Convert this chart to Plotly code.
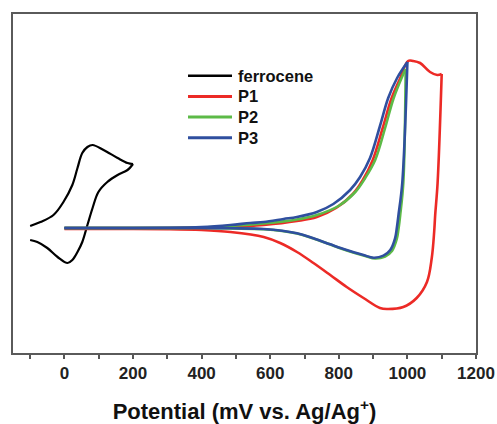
import plotly.graph_objects as go

# Cyclic voltammograms: potential (mV vs. Ag/Ag+) and current (arb. units),
# each sweep split into its forward (anodic) and reverse (cathodic) half.

ferrocene_fwd_x = [-100, -70, -32, -3, 23, 38, 52, 67, 82, 114, 155, 184, 200]
ferrocene_fwd_y = [0.2, 0.6, 1.3, 2.6, 4.3, 6.0, 7.5, 8.1, 8.3, 7.8, 7.0, 6.5, 6.4]
ferrocene_rev_x = [200, 184, 155, 125, 99, 82, 67, 52, 38, 23, 9, -20, -50, -79, -100]
ferrocene_rev_y = [6.4, 5.8, 5.3, 4.6, 3.6, 2.0, 0.3, -1.4, -2.4, -3.2, -3.5, -2.9, -2.0, -1.4, -1.2]

p1_fwd_x = [0, 150, 300, 400, 484, 581, 678, 736, 792, 841, 870, 899, 928, 953, 978,
            1002, 1017, 1037, 1066, 1087, 1100]
p1_fwd_y = [0, 0, 0, 0.05, 0.1, 0.3, 0.7, 1.1, 2.0, 3.4, 4.8, 6.8, 10.0, 12.9, 14.9,
            16.7, 16.7, 16.5, 15.6, 15.3, 15.4]
p1_rev_x = [1100, 1088, 1081, 1078, 1071, 1057, 1027, 988, 940, 920, 872, 823, 775, 726,
            678, 629, 581, 484, 400, 300, 150, 0]
p1_rev_y = [15.4, 4.5, 1.3, -0.4, -3.0, -5.4, -7.0, -7.9, -8.1, -8.0, -7.0, -5.9, -4.7,
            -3.5, -2.4, -1.5, -0.9, -0.4, -0.2, -0.12, -0.1, -0.1]

p2_fwd_x = [0, 150, 300, 400, 484, 581, 678, 736, 799, 848, 877, 906, 935, 959, 983, 995]
p2_fwd_y = [0, 0, 0, 0.05, 0.2, 0.45, 0.85, 1.3, 2.2, 3.6, 5.0, 6.8, 10.0, 12.9, 15.0, 15.9]
p2_rev_x = [995, 988, 979, 974, 969, 955, 935, 906, 877, 823, 775, 726, 678, 581, 484,
            400, 300, 150, 0]
p2_rev_y = [15.9, 4.5, 1.3, -0.1, -1.1, -2.3, -2.85, -3.05, -2.8, -2.25, -1.65, -1.05,
            -0.55, -0.12, -0.05, 0, 0, 0, 0]

p3_fwd_x = [0, 150, 300, 400, 484, 542, 581, 639, 678, 736, 784, 833, 862, 891, 920,
            944, 970, 1000]
p3_fwd_y = [0, 0, 0.02, 0.1, 0.3, 0.5, 0.6, 0.9, 1.1, 1.6, 2.4, 3.8, 5.1, 7.0, 10.2,
            13.0, 15.0, 16.6]
p3_rev_x = [1000, 985, 974, 969, 964, 950, 930, 901, 872, 823, 775, 726, 678, 581, 484,
            400, 300, 150, 0]
p3_rev_y = [16.6, 4.5, 1.3, -0.03, -1.03, -2.2, -2.77, -2.97, -2.7, -2.2, -1.63, -1.03,
            -0.53, -0.1, -0.03, 0, 0, 0, 0]

series = [
    ("ferrocene", "#000000", 2.2, ferrocene_fwd_x, ferrocene_fwd_y, ferrocene_rev_x, ferrocene_rev_y),
    ("P1", "#ec2a26", 2.6, p1_fwd_x, p1_fwd_y, p1_rev_x, p1_rev_y),
    ("P2", "#5cba47", 2.6, p2_fwd_x, p2_fwd_y, p2_rev_x, p2_rev_y),
    ("P3", "#2f4f9f", 2.6, p3_fwd_x, p3_fwd_y, p3_rev_x, p3_rev_y),
]

font_family = "Liberation Sans, Arial, sans-serif"

fig = go.Figure()
for name, color, width, fx, fy, rx, ry in series:
    for xs, ys in [(fx, fy), (rx, ry)]:
        fig.add_trace(go.Scatter(
            x=xs, y=ys, mode="lines", name=name, legendgroup=name, showlegend=False,
            line=dict(color=color, width=width, shape="spline", smoothing=1.0),
        ))

# Key in the upper middle of the frame: a short sample line and a bold label per series.
key_x0, key_x1, key_text_x = 0.378, 0.473, 0.481
key_top, key_step = 0.818, 0.061
for i, (name, color, width, *_rest) in enumerate(series):
    ky = key_top - i * key_step
    fig.add_shape(type="line", xref="paper", yref="paper",
                  x0=key_x0, x1=key_x1, y0=ky, y1=ky,
                  line=dict(color=color, width=width + 0.4))
    fig.add_annotation(xref="paper", yref="paper", x=key_text_x, y=ky,
                       xanchor="left", yanchor="middle", showarrow=False,
                       text=name,
                       font=dict(family=font_family, size=16.5, color="#111", weight="bold"))

fig.update_layout(
    width=497, height=424,
    margin=dict(l=13, r=21, t=14, b=71),
    paper_bgcolor="white", plot_bgcolor="white",
    showlegend=False,
    xaxis=dict(
        range=[-150, 1200], automargin=False,
        tickvals=[0, 200, 400, 600, 800, 1000, 1200],
        ticks="outside", ticklen=4, tickwidth=1.5, tickcolor="#555",
        minor=dict(tickvals=[-100, 100, 300, 500, 700, 900, 1100],
                   ticks="outside", ticklen=4, tickwidth=1.5, tickcolor="#555"),
        showline=True, linecolor="#5a5a5a", linewidth=2, mirror=True,
        showgrid=False, zeroline=False,
        tickfont=dict(family=font_family, size=17, color="#222", weight="bold"),
        title=dict(text="Potential (mV vs. Ag/Ag<sup>+</sup>)",
                   font=dict(family=font_family, size=22, color="#111", weight="bold"),
                   standoff=22),
    ),
    yaxis=dict(
        range=[-12.5, 21.4], automargin=False,
        showticklabels=False, ticks="",
        showline=True, linecolor="#5a5a5a", linewidth=2, mirror=True,
        showgrid=False, zeroline=False,
    ),
)

fig.write_html("out.html")
